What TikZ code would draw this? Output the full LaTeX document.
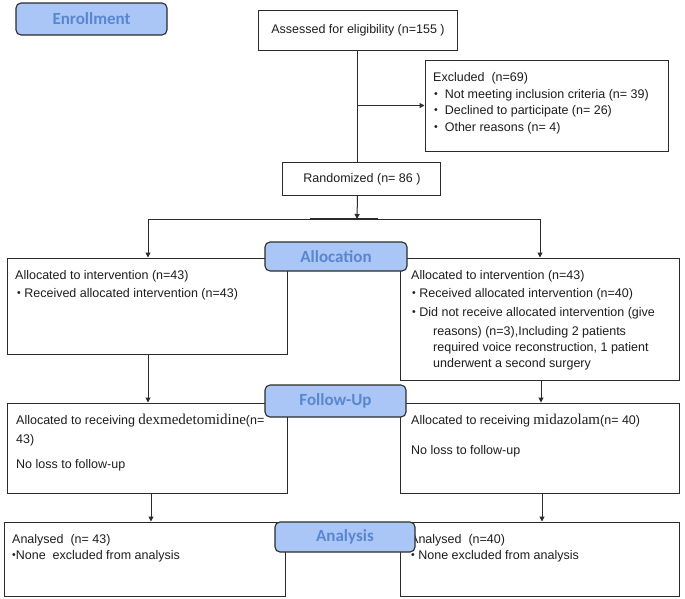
\documentclass[tikz,border=0pt]{standalone}
\usepackage{fontspec}
\setmainfont{Liberation Sans}
\newfontfamily\lblfont{Carlito}
\newfontfamily\serffont{Liberation Serif}
\usetikzlibrary{arrows.meta}
\definecolor{lblfill}{HTML}{A9C6F7}
\definecolor{lbltext}{HTML}{5A86CF}
\definecolor{edgec}{HTML}{2B2B2B}
\definecolor{txtc}{HTML}{1E1E1E}
\newcommand{\bul}{{\fontsize{10.5}{8}\selectfont\raisebox{0.3pt}{•}}}
\newcommand{\drug}[1]{{\serffont\fontsize{15}{12}\selectfont #1}}
\begin{document}
\begin{tikzpicture}[x=1pt,y=-1pt,
  box/.style={draw=edgec, line width=1pt, inner sep=0, fill=white},
  lbl/.style={draw=edgec, line width=1.1pt, fill=lblfill, rounded corners=5pt, inner sep=0,
    font=\lblfont\bfseries\fontsize{17}{17}\selectfont, text=lbltext},
  txt/.style={anchor=west, inner sep=0, font=\fontsize{12.5}{14}\selectfont, text=txtc},
  ctxt/.style={inner sep=0, font=\fontsize{12.5}{14}\selectfont, text=txtc},
  arr/.style={draw=edgec, line width=1pt, -{Triangle[length=5pt,width=5pt]}},
  ln/.style={draw=edgec, line width=1pt}]
\useasboundingbox (0,0) rectangle (685,598);

% boxes
\node[box, minimum width=199pt, minimum height=40pt] (assess) at (357.5,30) {};
\node[box, minimum width=243pt, minimum height=91pt] (excl) at (546.5,105.5) {};
\node[box, minimum width=158pt, minimum height=33pt] (rand) at (361.5,178.5) {};
\node[box, minimum width=280pt, minimum height=96pt] (alL) at (147,306) {};
\node[box, minimum width=279pt, minimum height=122pt] (alR) at (539.5,319) {};
\node[box, minimum width=280pt, minimum height=90pt] (fuL) at (147,448) {};
\node[box, minimum width=279pt, minimum height=90pt] (fuR) at (539.5,448) {};
\node[box, minimum width=281pt, minimum height=74pt] (anL) at (144.5,559) {};
\node[box, minimum width=279pt, minimum height=74pt] (anR) at (539.5,559) {};

% texts
\node[ctxt] (tAssess) at (358,30) {Assessed for eligibility (n=155 )};
\node[ctxt] (tRand) at (362,179) {Randomized (n= 86 )};

\node[txt] (tEx0) at (433,78) {Excluded\ \ (n=69)};
\node[txt] (tEx1) at (434,95) {\bul\ \ Not meeting inclusion criteria (n= 39)};
\node[txt] (tEx2) at (434,111) {\bul\ \ Declined to participate (n= 26)};
\node[txt] (tEx3) at (434,128) {\bul\ \ Other reasons (n= 4)};

\node[txt] (tAL0) at (15,276) {Allocated to intervention (n=43)};
\node[txt] (tAL1) at (17,294) {\bul\ Received allocated intervention (n=43)};

\node[txt] (tAR0) at (411,276) {Allocated to intervention (n=43)};
\node[txt] (tAR1) at (412,294) {\bul\ Received allocated intervention (n=40)};
\node[txt] (tAR2) at (412,313) {\bul\ Did not receive allocated intervention (give};
\node[txt] (tAR3) at (433,332) {reasons) (n=3),Including 2 patients};
\node[txt] (tAR4) at (433,348) {required voice reconstruction, 1 patient};
\node[txt] (tAR5) at (433,364) {underwent a second surgery};

\node[txt] (tFL0) at (16,421) {Allocated to receiving \drug{dexmedetomidine}(n=};
\node[txt] (tFL1) at (16,440) {43)};
\node[txt] (tFL2) at (16,465) {No loss to follow-up};

\node[txt] (tFR0) at (411,421) {Allocated to receiving \drug{midazolam}(n= 40)};
\node[txt] (tFR1) at (411,451) {No loss to follow-up};

\node[txt] (tNL0) at (12,540) {Analysed\ \ (n= 43)};
\node[txt] (tNL1) at (12,556) {\bul None\ \ excluded from analysis};
\node[txt] (tNR0) at (410,540) {Analysed\ \ (n=40)};
\node[txt] (tNR1) at (411,556) {\bul\ None excluded from analysis};

% connectors
\coordinate (split) at (357,219);
\coordinate (sl) at (148,219);
\coordinate (sr) at (540,219);
\coordinate (th1) at (310,219);
\coordinate (th2) at (378,219);
\draw[ln] (assess.south) -- (assess.south |- rand.north);
\draw[arr] (assess.south |- excl.west) -- (excl.west);
\draw[arr] (assess.south |- rand.south) -- (split);
\draw[ln] (sl) -- (sr);
\draw[draw=edgec, line width=1.6pt] (th1) -- (th2);
\draw[arr] (sl) -- (sl |- alL.north);
\draw[arr] (sr) -- (sr |- alR.north);
\draw[arr] ([xshift=1pt]alL.south) -- ([xshift=1pt]alL.south |- fuL.north);
\draw[arr] ([xshift=1.5pt]alR.south) -- ([xshift=1.5pt]alR.south |- fuR.north);
\draw[arr] ([xshift=4pt]fuL.south) -- ([xshift=4pt]fuL.south |- anL.north);
\draw[arr] ([xshift=2.5pt]fuR.south) -- ([xshift=2.5pt]fuR.south |- anR.north);

% stage labels
\node[lbl, minimum width=151pt, minimum height=32pt] (enr) at (91.5,19) {Enrollment};
\node[lbl, minimum width=142pt, minimum height=29pt] (alloc) at (336,256.5) {Allocation};
\node[lbl, minimum width=141pt, minimum height=32pt] (fol) at (335.5,401) {Follow-Up};
\node[lbl, minimum width=140pt, minimum height=30pt] (ana) at (345,537) {Analysis};
\end{tikzpicture}
\end{document}
